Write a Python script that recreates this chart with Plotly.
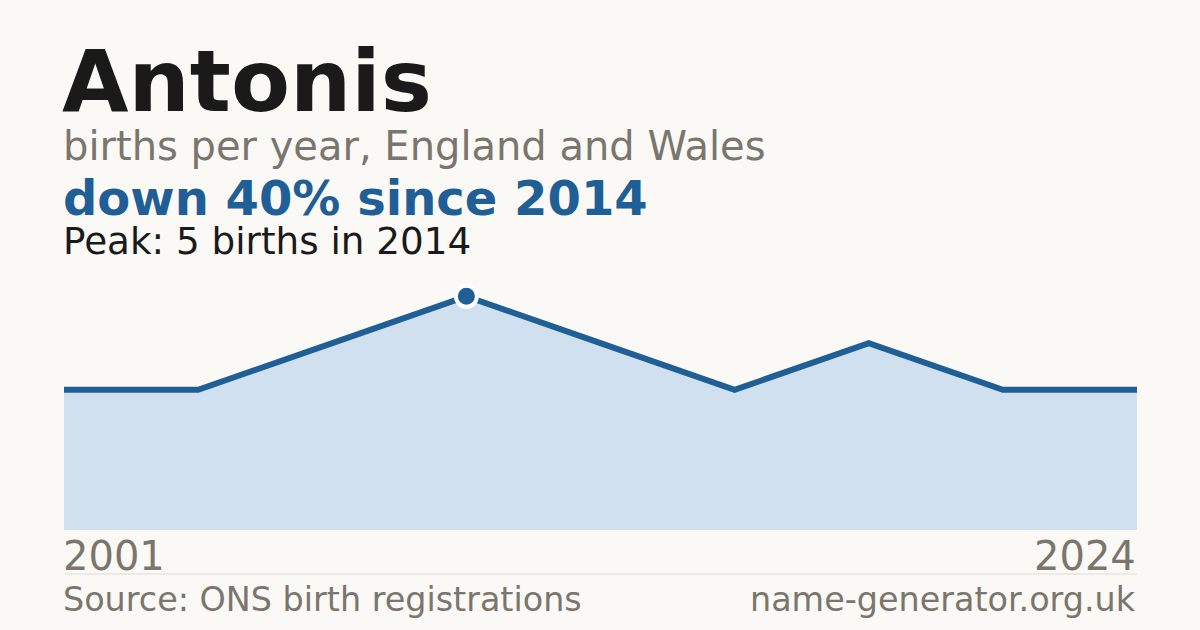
import plotly.graph_objects as go

# births per year for the name (only years with registrations shown)
years = ["2001", "2004", "2009", "2014", "2016", "2018", "2020", "2022", "2024"]
births = [3, 3, 4, 5, 4, 3, 4, 3, 3]

name = "Antonis"
peak_year = "2014"
peak_births = 5

BG = "#faf9f5"
BLUE = "#1f5f96"
FILL = "#d0e0ef"
GREY = "#7a756d"
DARK = "#1a1a1a"
FONT = "DejaVu Sans"

W, H = 1200, 630
L, R, T, B = 64, 63, 273, 100


def px_x(x):
    return (x - L) / (W - L - R)


def px_y(y):
    return (H - B - y) / (H - B - T)


fig = go.Figure()
fig.add_trace(go.Scatter(
    x=years, y=births, mode="lines", fill="tozeroy",
    fillcolor=FILL, line=dict(color=BLUE, width=6), hoverinfo="skip",
))
fig.add_trace(go.Scatter(
    x=[peak_year], y=[peak_births], mode="markers",
    marker=dict(size=21, color=BLUE, line=dict(color="white", width=4)),
    hoverinfo="skip",
))


def label(text, x, y, size, color, anchor="left", bold=False):
    if bold:
        text = "<b>" + text + "</b>"
    fig.add_annotation(
        text=text, x=px_x(x), y=px_y(y), xref="paper", yref="paper",
        xanchor=anchor, yanchor="middle", showarrow=False,
        font=dict(family=FONT, size=size, color=color),
    )


label(name, 60, 81, 86, DARK, bold=True)
label("births per year, England and Wales", 61, 146, 40, GREY)
label("down 40% since 2014", 61, 198, 48, BLUE, bold=True)
label("Peak: 5 births in 2014", 61, 241, 37.3, DARK)
label(years[0], 61, 556, 40, GREY)
label(years[-1], 1138, 556, 40, GREY, anchor="right")
label("Source: ONS birth registrations", 61, 599, 33.4, GREY)
label("name-generator.org.uk", 1138, 599, 33.4, GREY, anchor="right")

fig.add_shape(type="line", xref="paper", yref="paper",
              x0=0, x1=1, y0=px_y(574), y1=px_y(574),
              line=dict(color="#dedbd3", width=1))

fig.update_layout(
    width=W, height=H, paper_bgcolor=BG, plot_bgcolor=BG,
    margin=dict(l=L, r=R, t=T, b=B), showlegend=False,
    xaxis=dict(type="category", range=[0, len(years) - 1], visible=False),
    yaxis=dict(range=[0, 5.5], visible=False),
)

fig.write_html("out.html", config={"displayModeBar": False},
               post_script="document.body.style.margin='0';"
               "document.body.style.background='" + BG + "';")
